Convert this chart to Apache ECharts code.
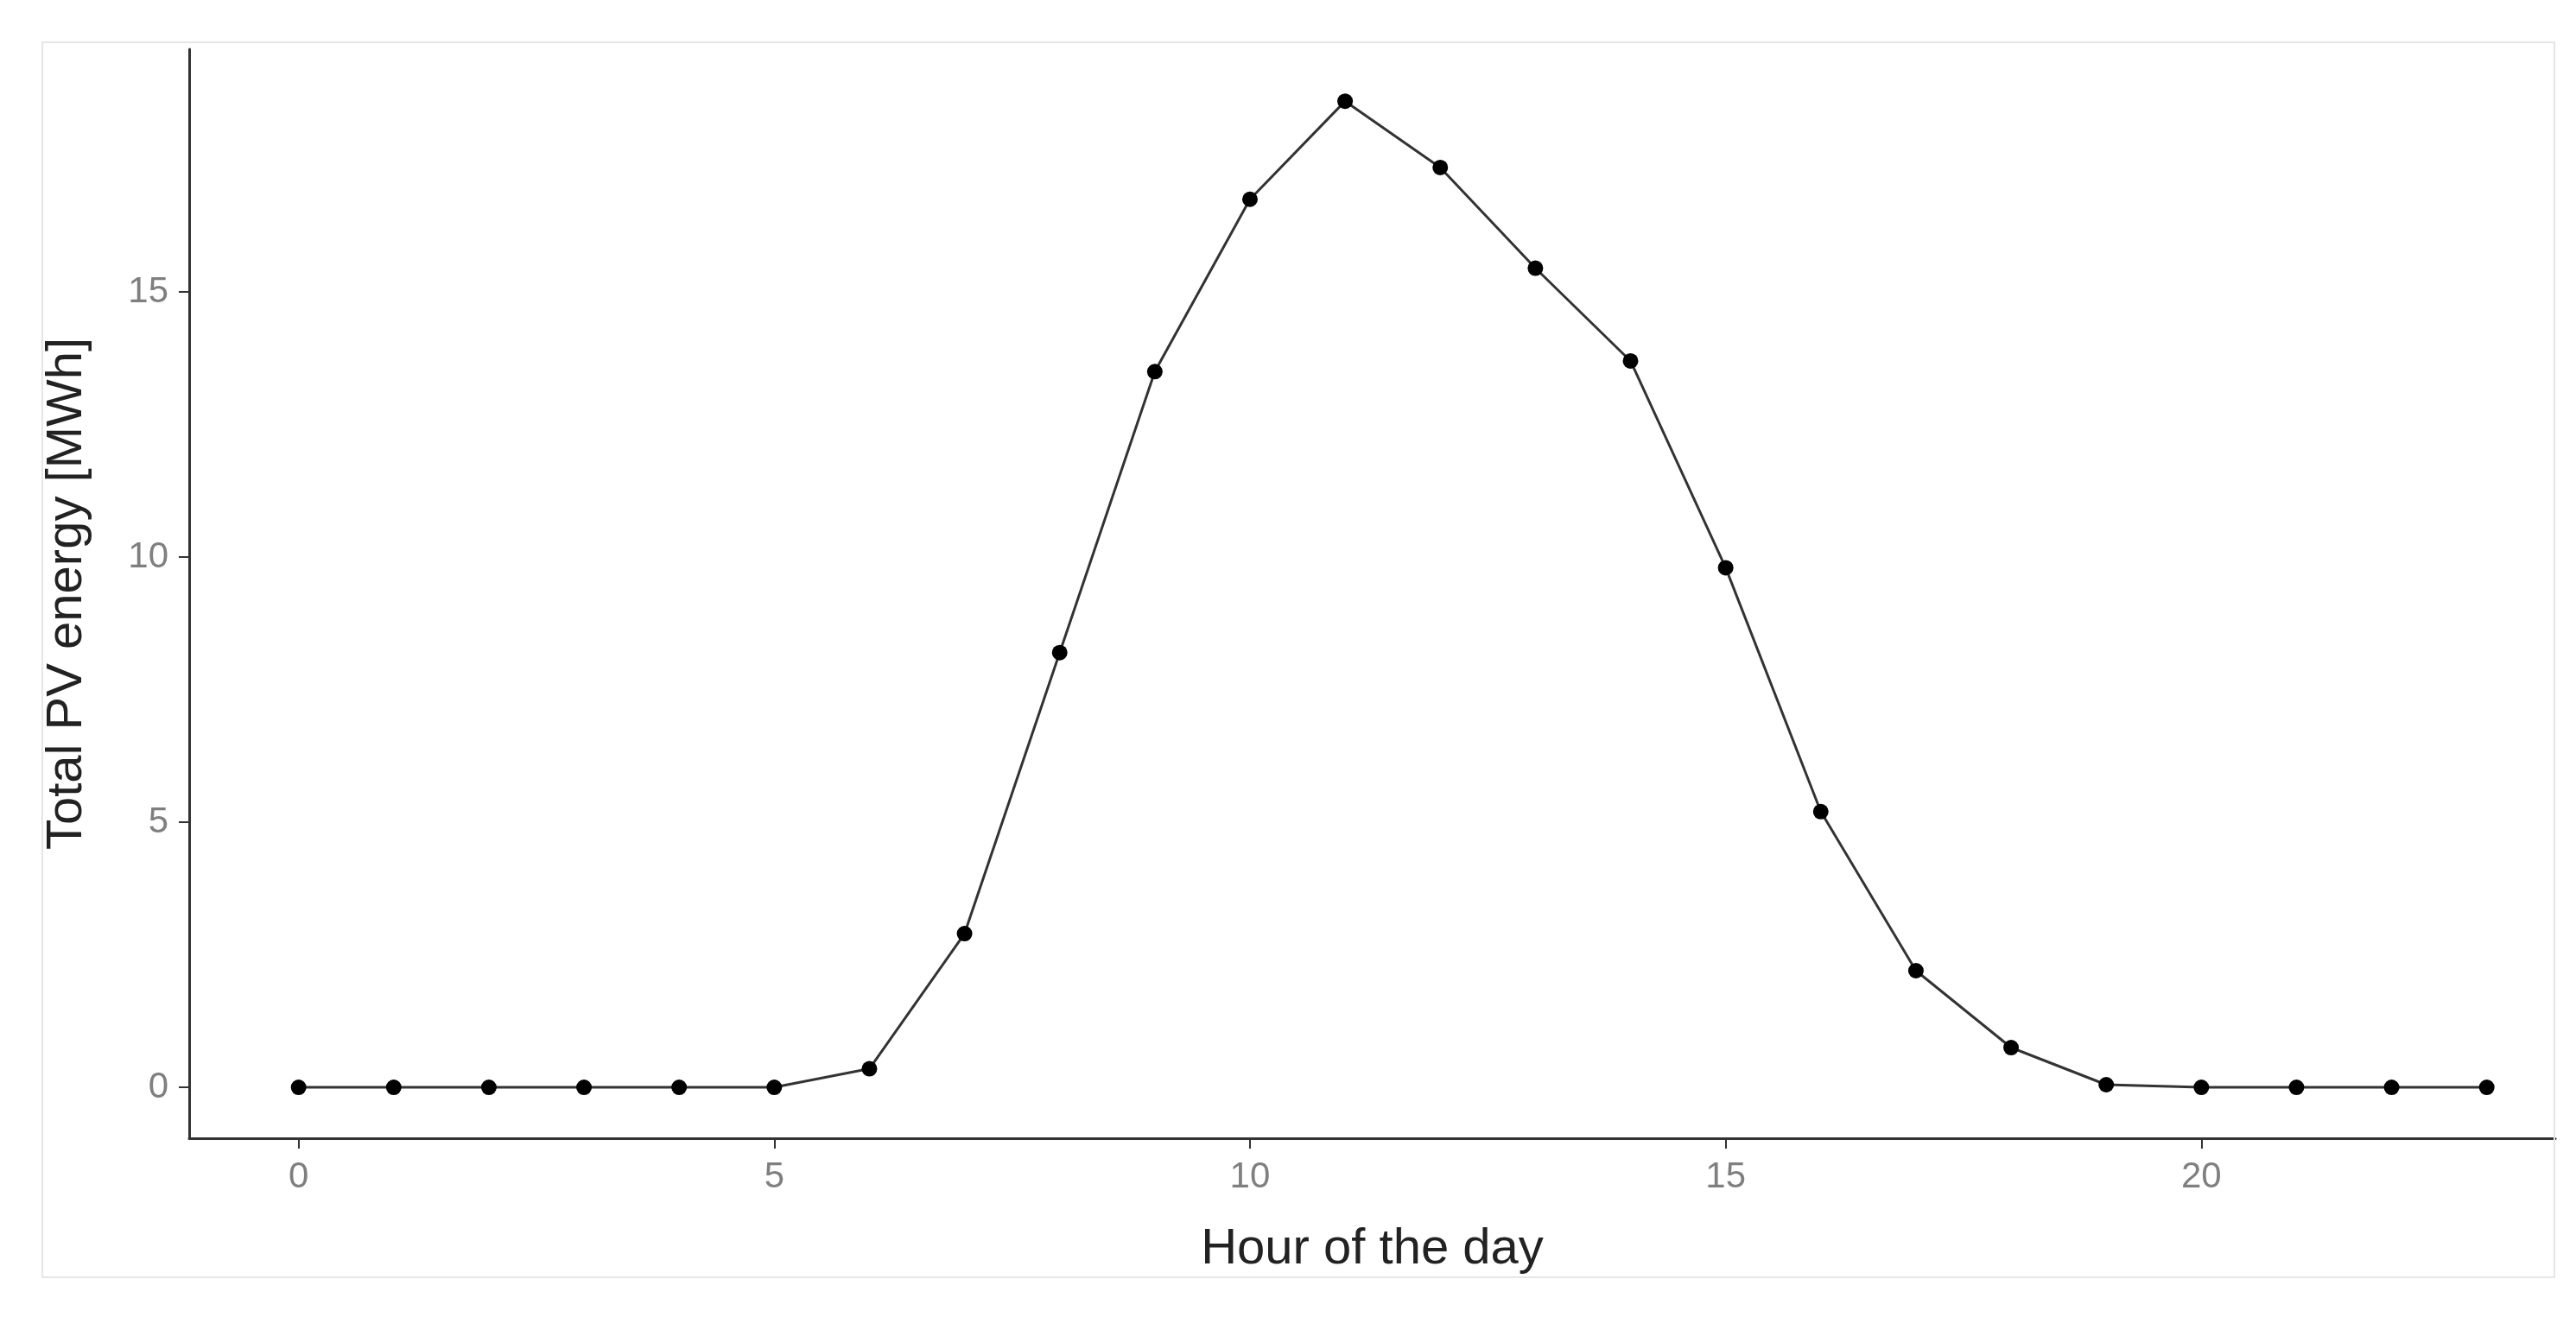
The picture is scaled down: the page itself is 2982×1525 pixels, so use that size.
<!DOCTYPE html>
<html><head><meta charset="utf-8">
<script src="https://cdn.jsdelivr.net/npm/echarts@6/dist/echarts.min.js"></script>
<style>html,body{margin:0;padding:0;background:#fff}#c{width:2982px;height:1525px}
#f{position:absolute;left:48px;top:48px;width:2910px;height:1432px;border:2px solid #e6e6e6;box-sizing:border-box;pointer-events:none}</style>
</head><body><div id="c"></div><div id="f"></div>
<script>
const hours = [0,1,2,3,4,5,6,7,8,9,10,11,12,13,14,15,16,17,18,19,20,21,22,23];
const energy = [0,0,0,0,0,0,0.35,2.9,8.2,13.5,16.75,18.6,17.35,15.45,13.7,9.8,5.2,2.2,0.75,0.05,0,0,0,0];
const xTicks = [0,5,10,15,20];
const yTicks = [0,5,10,15];
const chart = echarts.init(document.getElementById('c'));
const lbl = {color:'#7f7f7f', fontSize:42, fontFamily:'Liberation Sans'};
chart.setOption({
  animation:false,
  grid:{left:219,right:24,top:57,bottom:207},
  xAxis:{type:'value',min:-1.15,max:23.72,
    name:'Hour of the day',nameLocation:'middle',nameGap:100,
    nameTextStyle:{fontSize:58,color:'#222',fontFamily:'Liberation Sans'},
    axisLine:{onZero:false,lineStyle:{color:'#333',width:3}},
    axisTick:{show:true,length:12,lineStyle:{color:'#333',width:2},customValues:xTicks},
    axisLabel:Object.assign({margin:24,customValues:xTicks},lbl),
    splitLine:{show:false}},
  yAxis:{type:'value',min:-0.96,max:19.58,
    name:'Total PV energy [MWh]',nameLocation:'middle',nameGap:112,
    nameTextStyle:{fontSize:58,color:'#222',fontFamily:'Liberation Sans'},
    axisLine:{show:true,onZero:false,lineStyle:{color:'#333',width:3}},
    axisTick:{show:true,length:12,lineStyle:{color:'#333',width:2},customValues:yTicks},
    axisLabel:Object.assign({margin:24,customValues:yTicks},lbl),
    splitLine:{show:false}},
  series:[{type:'line',data:hours.map((h,i)=>[h,energy[i]]),
    symbol:'circle',symbolSize:18,
    itemStyle:{color:'#000'},lineStyle:{color:'#333',width:3}}]
});
</script></body></html>
